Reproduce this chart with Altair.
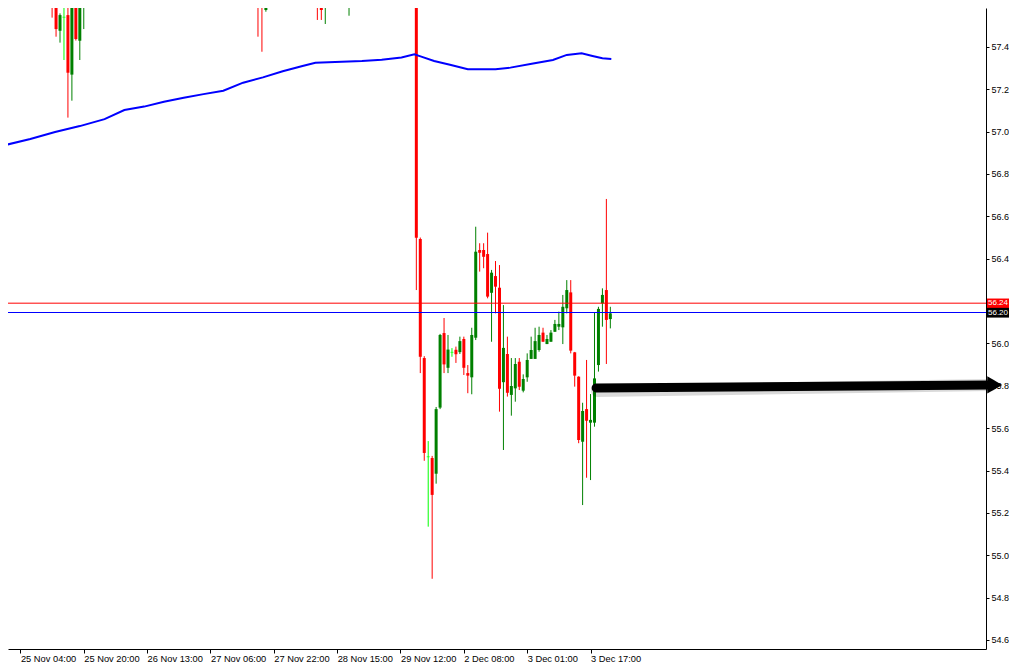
import altair as alt
import pandas as pd

# ---- candle data (hourly candles, index = bar number) ----
idx = [2, 10, 11, 12, 13, 14, 15, 16, 17, 18, 19, 63, 64, 65, 77, 78, 79, 80, 84, 86,
       103, 104, 105, 106, 107, 108, 109, 110, 111, 112, 113, 114, 115, 116, 117, 118,
       119, 120, 121, 122, 123, 124, 125, 126, 127, 128, 129, 130, 131, 132, 133, 134,
       135, 136, 137, 138, 139, 140, 141, 142, 143, 144, 145, 146, 147, 148, 149, 150,
       151, 152]
opens = [57.66, 57.80, 57.75, 57.66, 57.476, 57.540, 57.550, 57.269, 57.74, 57.429, 57.66,
         57.75, 57.68, 57.574, 57.66, 57.612, 57.612, 57.590, 57.64, 57.62,
         57.75, 56.493, 55.931, 55.465, 55.459, 55.385, 55.697, 56.049, 55.885, 55.958,
         55.970, 55.959, 56.021, 55.860, 55.840, 56.027, 56.441, 56.441, 56.422, 56.239,
         56.318, 56.263, 55.817, 55.950, 55.757, 55.788, 55.914, 55.777, 55.840, 55.927,
         55.927, 55.969, 56.051, 55.997, 56.008, 56.055, 56.079, 56.076, 56.166, 56.241,
         55.958, 55.843, 55.536, 55.690, 55.626, 55.626, 55.898, 56.189, 56.252, 56.115]
highs = [57.75, 57.85, 57.80, 57.70, 57.558, 57.66, 57.62, 57.76, 57.78, 57.75, 57.78,
         57.80, 57.72, 57.72, 57.70, 57.63, 57.63, 57.68, 57.72, 57.72,
         57.78, 56.50, 55.94, 55.539, 55.469, 55.700, 56.045, 56.120, 56.040, 55.978,
         55.985, 56.032, 56.032, 55.898, 56.074, 56.551, 56.473, 56.473, 56.523, 56.347,
         56.389, 56.370, 56.181, 56.032, 55.931, 55.931, 55.931, 55.854, 55.953, 56.032,
         56.074, 56.079, 56.074, 56.040, 56.063, 56.111, 56.150, 56.229, 56.299, 56.299,
         55.960, 55.845, 55.720, 55.922, 55.761, 56.147, 56.173, 56.260, 56.682, 56.173]
lows = [57.615, 57.598, 57.538, 57.448, 57.420, 57.338, 57.066, 57.146, 57.43, 57.338, 57.484,
        57.448, 57.377, 57.566, 57.595, 57.527, 57.527, 57.508, 57.617, 57.547,
        56.252, 55.860, 55.446, 55.135, 54.889, 55.338, 55.690, 55.860, 55.860, 55.937,
        55.908, 55.950, 55.851, 55.765, 55.760, 56.016, 56.339, 56.355, 56.213, 56.008,
        56.142, 55.678, 55.497, 55.749, 55.659, 55.725, 55.780, 55.769, 55.819, 55.927,
        55.927, 55.961, 56.008, 55.997, 56.008, 56.055, 56.063, 55.997, 56.142, 55.953,
        55.796, 55.529, 55.237, 55.366, 55.355, 55.607, 55.867, 56.079, 55.903, 56.071]
closes = [57.72, 57.68, 57.66, 57.484, 57.550, 57.540, 57.278, 57.72, 57.437, 57.70, 57.72,
          57.64, 57.590, 57.68, 57.598, 57.598, 57.574, 57.65, 57.69, 57.68,
          56.499, 55.937, 55.483, 55.465, 55.285, 55.690, 56.040, 55.901, 55.971, 55.958,
          55.949, 56.011, 55.885, 55.848, 56.040, 56.433, 56.428, 56.409, 56.221, 56.334,
          56.268, 55.786, 55.979, 55.767, 55.799, 55.903, 55.796, 55.832, 55.922, 55.969,
          56.011, 56.040, 56.008, 56.021, 56.051, 56.092, 56.092, 56.173, 56.252, 55.966,
          55.848, 55.544, 55.681, 55.635, 55.639, 55.835, 56.163, 56.229, 56.111, 56.142]

# ---- moving average line ----
ma_idx = [-0.75, 5.5, 11.75, 18, 24.25, 29.25, 34.25, 39.25, 44.25, 49.25, 54.25, 59.25,
          64.25, 69.25, 74.25, 77.5, 82.5, 89.25, 94.25, 99.25, 102.5, 104.25, 107.5,
          111.75, 116, 123, 126.75, 132.5, 137.5, 141, 144.75, 147.5, 150, 152.25]
ma_val = [56.937, 56.965, 56.998, 57.026, 57.059, 57.102, 57.118, 57.141, 57.160, 57.177,
          57.193, 57.231, 57.256, 57.285, 57.310, 57.325, 57.329, 57.333, 57.339, 57.350,
          57.365, 57.354, 57.333, 57.314, 57.294, 57.294, 57.302, 57.322, 57.338, 57.362,
          57.370, 57.357, 57.346, 57.343]

# ---- axis ticks ----
tick_idx = [3, 19, 35, 51, 67, 83, 99, 115, 131, 147]
tick_lbl = ["25 Nov 04:00", "25 Nov 20:00", "26 Nov 13:00", "27 Nov 06:00", "27 Nov 22:00",
            "28 Nov 15:00", "29 Nov 12:00", "2 Dec 08:00", "3 Dec 01:00", "3 Dec 17:00"]
price_ticks = [54.6, 54.8, 55.0, 55.2, 55.4, 55.6, 55.8, 56.0, 56.2, 56.4, 56.6, 56.8,
               57.0, 57.2, 57.4, 57.6]

# ---- price lines ----
line_price = [56.190, 56.146]
line_color = ["#FF0000", "#0000FF"]
line_text = ["56.24", "56.20"]
label_bg = ["#FF0000", "#000000"]

# ---- annotation arrow ----
arrow_idx = [148.4, 248.2]
arrow_price = [55.790, 55.804]
head_idx = [249.1]
head_price = [55.804]

XDOM = [1.125, 245.625]
YDOM = [54.5575, 57.5835]
FONT = "Liberation Sans"
FS = 9.3

df = pd.DataFrame({"i": idx, "o": opens, "h": highs, "l": lows, "c": closes})
df["kind"] = ["up" if c > o else ("down" if c < o else "doji") for o, c in zip(df.o, df.c)]
col_scale = alt.Scale(domain=["up", "down", "doji"], range=["#008000", "#FF0000", "#00FF00"])

xs = alt.Scale(domain=XDOM, nice=False, zero=False)
ys = alt.Scale(domain=YDOM, nice=False, zero=False)

x_axis = alt.Axis(values=tick_idx, title=None, grid=False,
                  labelExpr="[" + ",".join("'%s'" % t for t in tick_lbl) + "][round((datum.value-3)/16)]",
                  labelAlign="left", labelBaseline="top", labelPadding=1,
                  tickSize=4, labelFlush=False, labelOverlap=False,
                  labelFont=FONT, labelFontSize=FS, labelColor="#000000",
                  domainColor="#000000", tickColor="#000000")
y_axis = alt.Axis(values=price_ticks, orient="right", title=None, grid=False,
                  labelExpr="abs(datum.value - 56.2) < 0.001 ? '' : format(datum.value, '.1f')",
                  tickSize=3, labelPadding=2, labelFont=FONT, labelFontSize=9,
                  labelColor="#000000", domainColor="#000000", tickColor="#000000",
                  labelFlush=False, labelOverlap=False)

base = alt.Chart(df)

wicks = base.mark_rule(strokeWidth=1, clip=True).encode(
    x=alt.X("i:Q", scale=xs, axis=x_axis),
    y=alt.Y("l:Q", scale=ys, axis=y_axis),
    y2="h:Q",
    color=alt.Color("kind:N", scale=col_scale, legend=None),
)
bodies = base.transform_filter("datum.kind != 'doji'").mark_bar(size=3, clip=True).encode(
    x="i:Q", y="o:Q", y2="c:Q",
    color=alt.Color("kind:N", scale=col_scale, legend=None),
)
dojis = base.transform_filter("datum.kind == 'doji'").mark_tick(
    orient="horizontal", size=3, thickness=1, clip=True).encode(
    x="i:Q", y="o:Q",
    color=alt.Color("kind:N", scale=col_scale, legend=None),
)

ma_df = pd.DataFrame({"i": ma_idx, "v": ma_val})
ma = alt.Chart(ma_df).mark_line(color="#0000FF", strokeWidth=2, clip=True).encode(
    x="i:Q", y="v:Q")

pl_df = pd.DataFrame({"p": line_price, "col": line_color, "txt": line_text, "bg": label_bg})
pl_df["top"] = pl_df["p"] + 0.022
pl_df["bot"] = pl_df["p"] - 0.024
plines = alt.Chart(pl_df).mark_rule(strokeWidth=1).encode(
    y="p:Q", color=alt.Color("col:N", scale=None))
pboxes = alt.Chart(pl_df).mark_rect(clip=False).encode(
    x=alt.value(979), x2=alt.value(1001), y="top:Q", y2="bot:Q",
    color=alt.Color("bg:N", scale=None))
ptext = alt.Chart(pl_df).mark_text(align="left", baseline="middle", font=FONT, fontSize=8,
                                   color="#FFFFFF", clip=False).encode(
    x=alt.value(980), y="p:Q", text="txt:N")

ar_df = pd.DataFrame({"i": [arrow_idx[0]], "i2": [arrow_idx[1]],
                      "p": [arrow_price[0]], "p2": [arrow_price[1]]})
shadow = alt.Chart(ar_df).mark_rule(strokeWidth=12, strokeCap="round", color="#000000",
                                    opacity=0.15, yOffset=3, xOffset=1, clip=False).encode(
    x="i:Q", x2="i2:Q", y="p:Q", y2="p2:Q")
arrow = alt.Chart(ar_df).mark_rule(strokeWidth=9, strokeCap="round", color="#000000",
                                   clip=False).encode(
    x="i:Q", x2="i2:Q", y="p:Q", y2="p2:Q")
hd_df = pd.DataFrame({"i": head_idx, "p": head_price})
head = alt.Chart(hd_df).mark_point(shape="triangle-right", filled=True, size=300,
                                   color="#000000", opacity=1, clip=False).encode(
    x="i:Q", y="p:Q")

chart = alt.layer(wicks, bodies, dojis, ma, plines, shadow, arrow, head, pboxes, ptext).properties(
    width=978, height=641,
    autosize=alt.AutoSizeParams(type="none"),
    padding={"left": 0, "top": 0, "right": 23, "bottom": 14},
    background="#FFFFFF",
).configure_view(strokeWidth=0)

chart.save("out.html", embed_options={"renderer": "svg", "actions": False})
